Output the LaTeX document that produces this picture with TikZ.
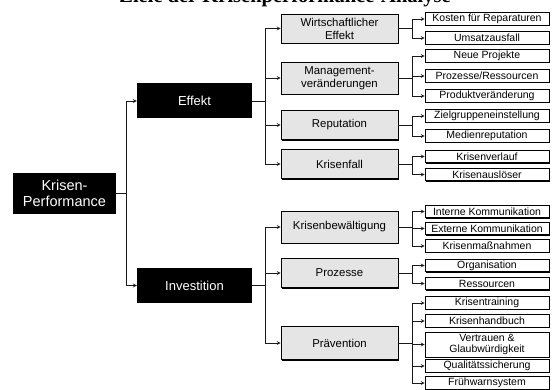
\documentclass[tikz,border=0pt]{standalone}
\usepackage{fontspec}
\setmainfont{Liberation Serif}
\setsansfont{Liberation Sans}
\usetikzlibrary{shadows}
\tikzset{
  rootbox/.style={fill=black, text=white, align=center, inner sep=0pt,
    minimum width=103pt, minimum height=41pt,
    font=\sffamily\fontsize{14.5}{16.5}\selectfont},
  mainbox/.style={fill=black, text=white, inner sep=0pt,
    minimum width=115pt, minimum height=35pt,
    font=\sffamily\fontsize{13}{15}\selectfont},
  catbox/.style={draw=black, line width=0.6pt, fill=black!10, align=center, inner sep=0pt,
    minimum width=117pt, minimum height=29pt,
    drop shadow={shadow xshift=1.2pt, shadow yshift=-1.2pt, opacity=1, fill=black},
    font=\sffamily\fontsize{11.4}{13}\selectfont},
  leafbox/.style={draw=black, line width=0.6pt, fill=white, align=center, inner sep=0pt,
    minimum width=124pt, minimum height=12.5pt,
    drop shadow={shadow xshift=1pt, shadow yshift=-1.2pt, opacity=1, fill=black},
    font=\sffamily\fontsize{10.5}{11.5}\selectfont},
  titletext/.style={font=\bfseries\fontsize{20.5}{24}\selectfont, inner sep=0pt},
  link/.style={->, draw=black!90, line width=0.75pt}
}
\begin{document}
\begin{tikzpicture}[>=stealth, x=1pt, y=-1pt]
    \useasboundingbox (0,0) rectangle (552,390);
    \node[titletext, anchor=base] (title) at (285,3) {Ziele der Krisenperformance-Analyse};

    \node[rootbox] (root) at (64.5,193.5) {Krisen-\\Performance};
    \node[mainbox] (effekt) at (194.5,101) {Effekt};
    \node[mainbox] (invest) at (194.5,285.5) {Investition};

    \node[catbox] (wirt) at (339.5,28.5) {Wirtschaftlicher\\Effekt};
    \node[catbox, minimum height=32pt] (mgmt) at (339.5,78) {Management-\\veränderungen};
    \node[catbox] (repu) at (339.5,125) {Reputation};
    \node[catbox] (fall) at (339.5,164) {Krisenfall};
    \node[catbox, minimum height=32pt] (bew) at (339.5,227) {Krisenbewältigung};
    \node[catbox] (proz) at (339.5,273) {Prozesse};
    \node[catbox, minimum height=33pt] (praev) at (339.5,343) {Prävention};

    \node[leafbox] (kosten) at (487,19) {Kosten für Reparaturen};
    \node[leafbox] (umsatz) at (487,38) {Umsatzausfall};
    \node[leafbox] (neue) at (487,56) {Neue Projekte};
    \node[leafbox] (prozres) at (487,76) {Prozesse/Ressourcen};
    \node[leafbox] (produkt) at (487,96) {Produktveränderung};
    \node[leafbox] (ziel) at (487,116) {Zielgruppeneinstellung};
    \node[leafbox] (medien) at (487,136) {Medienreputation};
    \node[leafbox] (verlauf) at (487,156.5) {Krisenverlauf};
    \node[leafbox] (ausl) at (487,174.5) {Krisenauslöser};
    \node[leafbox] (intern) at (487,211.5) {Interne Kommunikation};
    \node[leafbox] (extern) at (487,228.5) {Externe Kommunikation};
    \node[leafbox] (mass) at (487,246) {Krisenmaßnahmen};
    \node[leafbox] (orga) at (487,265.5) {Organisation};
    \node[leafbox] (ress) at (487,283.5) {Ressourcen};
    \node[leafbox] (training) at (487,303) {Krisentraining};
    \node[leafbox] (handbuch) at (487,321) {Krisenhandbuch};
    \node[leafbox, minimum height=25pt] (vertrauen) at (487,344.5) {Vertrauen \&\\Glaubwürdigkeit};
    \node[leafbox] (quali) at (487,366) {Qualitätssicherung};
    \node[leafbox] (frueh) at (487,383) {Frühwarnsystem};

    \foreach \c in {effekt,invest} \draw[link] (root.east) -- ++(10,0) |- (\c.west);
    \foreach \c in {wirt,mgmt,repu,fall} \draw[link] (effekt.east) -- ++(13,0) |- (\c.west);
    \foreach \c in {bew,proz,praev} \draw[link] (invest.east) -- ++(13,0) |- (\c.west);

    \foreach \c in {kosten,umsatz} \draw[link] (wirt.east) -- ++(14,0) |- (\c.west);
    \foreach \c in {neue,prozres,produkt} \draw[link] (mgmt.east) -- ++(14,0) |- (\c.west);
    \foreach \c in {ziel,medien} \draw[link] (repu.east) -- ++(14,0) |- (\c.west);
    \foreach \c in {verlauf,ausl} \draw[link] (fall.east) -- ++(14,0) |- (\c.west);
    \foreach \c in {intern,extern,mass} \draw[link] (bew.east) -- ++(14,0) |- (\c.west);
    \foreach \c in {orga,ress} \draw[link] (proz.east) -- ++(14,0) |- (\c.west);
    \foreach \c in {training,handbuch,vertrauen,quali,frueh} \draw[link] (praev.east) -- ++(14,0) |- (\c.west);
\end{tikzpicture}
\end{document}
